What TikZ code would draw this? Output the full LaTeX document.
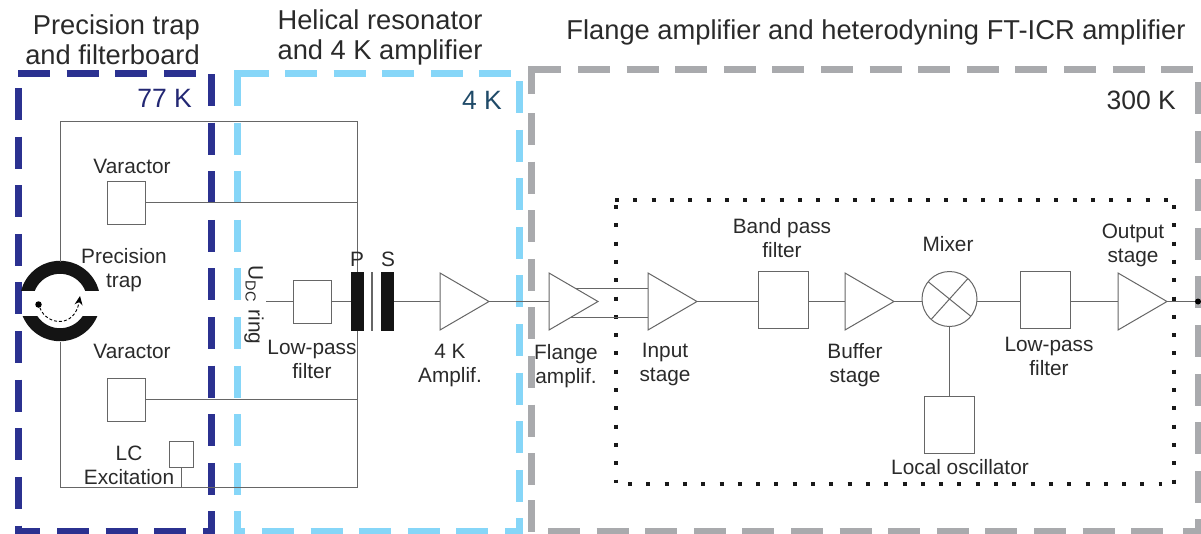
\documentclass[tikz,border=0pt]{standalone}
\usepackage{fontspec}
\setmainfont{Liberation Sans}
\usetikzlibrary{calc,arrows.meta,shapes.geometric}

\definecolor{navyk}{HTML}{2B3190}
\definecolor{skyk}{HTML}{86D6F8}
\definecolor{grayk}{HTML}{A9AAAD}
\definecolor{inkk}{HTML}{2A2A2A}
\definecolor{tealk}{HTML}{1F4A68}

\tikzset{
    tempdash/.style={line width=7pt, dash pattern=on 32pt off 16.6pt},
    tempcorner/.style={line width=7pt, miter limit=10},
    dotline/.style={line width=4pt, black!90, dash pattern=on 4pt off 14.3pt},
    wire/.style={line width=1pt, draw=black!60},
    labeltext/.style={align=center, text=inkk, inner sep=0pt, font=\fontsize{20.8}{24}\selectfont},
    headtext/.style={align=center, text=inkk, inner sep=0pt, font=\fontsize{27.3}{30}\selectfont},
    temptext/.style={inner sep=0pt, font=\fontsize{26.5}{30}\selectfont},
    filterbox/.style={draw=black!60, line width=1pt, fill=white, inner sep=0pt, outer sep=0pt},
    ampl/.style={draw=black!60, line width=1pt, fill=white, isosceles triangle, isosceles triangle stretches,
        minimum width=57pt, minimum height=49pt, inner sep=0pt, outer sep=0pt, anchor=lower side},
    coilbar/.style={fill=black!92, minimum width=13pt, minimum height=59pt, inner sep=0pt, outer sep=0pt}
}

\begin{document}
\begin{tikzpicture}[x=1pt,y=-1pt]
    \useasboundingbox (0,0) rectangle (1201,533);

    % Draw the 77 K box
    \draw[tempdash,navyk] (18,73) -- (196,73);
    \draw[tempdash,navyk] (211,74) -- (211,505);
    \draw[tempdash,navyk] (18,88) -- (18,510);
    \draw[tempdash,navyk] (57,531) -- (190,531);
    \draw[tempcorner,navyk] (18,525.6) -- (18,531) -- (40,531);
    \draw[tempcorner,navyk] (211,511) -- (211,531) -- (203,531);

    % Draw the 4 K box
    \draw[tempcorner,skyk] (237.7,105.6) -- (237.7,73) -- (268.5,73);
    \draw[tempdash,skyk] (285,73) -- (512,73);
    \draw[tempdash,skyk] (237.7,122.6) -- (237.7,505);
    \draw[tempdash,skyk] (262,531) -- (495,531);
    \draw[tempdash,skyk] (519.5,81) -- (519.5,505);
    \draw[tempcorner,skyk] (237.7,511) -- (237.7,531) -- (245,531);
    \draw[tempcorner,skyk] (505,531) -- (519.5,531) -- (519.5,518);

    % Draw the 300 K box
    \draw[tempcorner,grayk] (531,94) -- (531,69) -- (561,69);
    \draw[tempdash,grayk] (578,69) -- (1193,69);
    \draw[tempdash,grayk] (531,113) -- (531,485);
    \draw[tempdash,grayk] (531,500) -- (531,533);
    \draw[tempdash,grayk] (548,531) -- (1165,531);
    \draw[tempdash,grayk] (1198,82) -- (1198,505);
    \draw[tempcorner,grayk] (1183,531) -- (1198,531) -- (1198,519);

    % Draw the dotted box
    \draw[dotline] (615,200) -- (1168,200);
    \draw[dotline] (1174,205) -- (1174,484);
    \draw[dotline] (628,484) -- (1162,484);
    \draw[dotline] (616,205) -- (616,483);

    % Draw the trap electrodes
    \begin{scope}
        \clip (15,255) rectangle (105,290.7);
        \draw[line width=13pt, black!92] (60,301) circle (33.7pt);
    \end{scope}
    \begin{scope}
        \clip (15,316) rectangle (105,348);
        \draw[line width=13pt, black!92] (60,301) circle (33.7pt);
    \end{scope}
    \node (ion) at (38.5,304.5) [circle, fill=black, minimum size=6.5pt, inner sep=0pt] {};
    \coordinate (iontip) at (80,296);
    \draw[densely dashed, line width=.9pt, -{Stealth[length=9pt,width=8pt]}] (ion) .. controls (47,326) and (75,328) .. (iontip);

    % Define the corners of the frame
    \coordinate (traptop) at (60,262);
    \coordinate (trapbot) at (60,342);
    \coordinate (frameNW) at (60,121);
    \coordinate (frameNE) at (357,121);
    \coordinate (frameSE) at (357,487);
    \coordinate (frameSW) at (60,487);
    \draw[wire] (traptop) -- (frameNW) -- (frameNE) -- (frameSE) -- (frameSW) -- (trapbot);

    % Place the boxes
    \node (varup) at (126,202.5) [filterbox, minimum width=38pt, minimum height=43pt] {};
    \node (vardown) at (126,399.5) [filterbox, minimum width=38pt, minimum height=43pt] {};
    \node (lcbox) at (181,454) [filterbox, minimum width=24pt, minimum height=26pt] {};
    \node (lowpassA) at (312,301.5) [filterbox, minimum width=38pt, minimum height=43pt] {};
    \node (bandpass) at (783,300) [filterbox, minimum width=50pt, minimum height=57pt] {};
    \node (lowpassB) at (1045,300) [filterbox, minimum width=50pt, minimum height=57pt] {};
    \node (localosc) at (949.5,424.5) [filterbox, minimum width=50pt, minimum height=57pt] {};
    \node (mixer) at (949.5,299) [filterbox, circle, minimum size=55pt] {};

    % Place the transformer
    \node (primary) at (357.5,301.5) [coilbar] {};
    \node (secondary) at (387.5,301.5) [coilbar] {};
    \node (core) at (372,301.5) [fill=black!60, minimum width=1.2pt, minimum height=59pt, inner sep=0pt, outer sep=0pt] {};

    % Place the amplifiers
    \node (fourk) at (440,301.5) [ampl] {};
    \node (flange) at (549,301.5) [ampl] {};
    \node (input) at (648,301.5) [ampl] {};
    \node (buffer) at (845,301.5) [ampl] {};
    \node (output) at (1118,301.5) [ampl] {};

    % Define the free ends of the lines
    \coordinate (ringend) at (266,301.5);
    \node (outdot) at (1198,301.5) [circle, fill=black, minimum size=6pt, inner sep=0pt] {};
    \coordinate (flangeup) at ($(flange.left corner)!0.55!(flange.apex)$);
    \coordinate (flangedown) at ($(flange.right corner)!0.45!(flange.apex)$);

    % Draw the lines
    \draw[wire] (varup.east) -- (varup.east -| frameNE);
    \draw[wire] (vardown.east) -- (vardown.east -| frameNE);
    \draw[wire] (lcbox.south) -- (lcbox.south |- frameSW);
    \draw[wire] (ringend) -- (lowpassA.west);
    \draw[wire] (lowpassA.east) -- (primary.west);
    \draw[wire] (secondary.east) -- (fourk.lower side);
    \draw[wire] (fourk.apex) -- (flange.lower side);
    \draw[wire] (flangeup) -- (input.lower side |- flangeup);
    \draw[wire] (flangedown) -- (input.lower side |- flangedown);
    \draw[wire] (input.apex) -- (input.apex -| bandpass.west);
    \draw[wire] (input.apex -| bandpass.east) -- (buffer.lower side);
    \draw[wire] (buffer.apex) -- (buffer.apex -| mixer.west);
    \draw[wire] (buffer.apex -| mixer.east) -- (buffer.apex -| lowpassB.west);
    \draw[wire] (buffer.apex -| lowpassB.east) -- (output.lower side);
    \draw[wire] (output.apex) -- (outdot);
    \draw[wire] (mixer.south) -- (localosc.north);
    \draw[wire] (mixer.141) -- (mixer.321);
    \draw[wire] (mixer.48) -- (mixer.228);

    % Place the headings
    \node (headtrap) at (200,40) [headtext, anchor=east, align=right] {Precision trap\\and filterboard};
    \node (headhelical) at (380,37) [headtext] {Helical resonator\\and 4 K amplifier};
    \node (headflange) at (876,32) [headtext] {Flange amplifier and heterodyning FT-ICR amplifier};

    % Place the temperatures
    \node (tempA) at (192,98) [temptext, anchor=east, text=navyk!80!black] {77 K};
    \node (tempB) at (502,100) [temptext, anchor=east, text=tealk] {4 K};
    \node (tempC) at (1176,100) [temptext, anchor=east, text=inkk] {300 K};

    % Place the labels
    \node (lblvarup) at (132,166) [labeltext] {Varactor};
    \node (lblvardown) at (132,351) [labeltext] {Varactor};
    \node (lbltrap) at (124,270) [labeltext] {Precision\\trap};
    \node (lbllc) at (129,465) [labeltext] {LC\\Excitation};
    \node (lblring) at (254,305) [labeltext, rotate=-90] {U\textsubscript{DC}\hspace{2pt} ring};
    \node (lblfilterA) at (312,359.5) [labeltext] {Low-pass\\filter};
    \node (lblprimary) at (357,259) [labeltext] {P};
    \node (lblsecondary) at (388,259) [labeltext] {S};
    \node (lblfourk) at (450,365) [labeltext] {4 K\\Amplif.};
    \node (lblflange) at (566,366) [labeltext] {Flange\\amplif.};
    \node (lblinput) at (665,364) [labeltext] {Input\\stage};
    \node (lblband) at (782,238) [labeltext] {Band pass\\filter};
    \node (lblbuffer) at (855,365) [labeltext] {Buffer\\stage};
    \node (lblmixer) at (948,244) [labeltext] {Mixer};
    \node (lblfilterB) at (1049,356) [labeltext] {Low-pass\\filter};
    \node (lbloutput) at (1133,245) [labeltext] {Output\\stage};
    \node (lbllocal) at (960,467) [labeltext] {Local oscillator};

\end{tikzpicture}
\end{document}
